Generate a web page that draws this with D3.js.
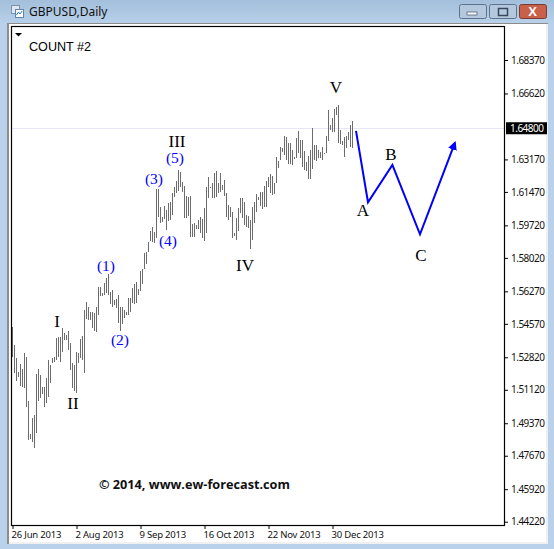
<!DOCTYPE html>
<html><head><meta charset="utf-8">
<script src="https://cdn.jsdelivr.net/npm/d3@7"></script>
<style>html,body{margin:0;padding:0;background:#b9d1ea}svg{display:block}</style>
</head><body><div id="c"></div>
<script>
const highs=[1.5441,1.5347,1.5279,1.5205,1.5247,1.5221,1.5305,1.5284,1.5054,1.4881,
1.4965,1.4981,1.5195,1.5221,1.5190,1.5127,1.5127,1.5174,1.5268,1.5242,
1.5279,1.5284,1.5383,1.5388,1.5388,1.5436,1.5409,1.5399,1.5420,1.5357,
1.5253,1.5242,1.5310,1.5305,1.5378,1.5394,1.5530,1.5572,1.5545,1.5519,
1.5519,1.5514,1.5545,1.5650,1.5650,1.5619,1.5671,1.5697,1.5718,1.5624,
1.5634,1.5582,1.5587,1.5608,1.5545,1.5545,1.5530,1.5519,1.5592,1.5592,
1.5645,1.5666,1.5676,1.5640,1.5734,1.5744,1.5828,1.5833,1.5885,1.5943,
1.5964,1.5938,1.6163,1.6163,1.6068,1.6016,1.6074,1.6053,1.6089,1.6095,
1.6142,1.6173,1.6204,1.6262,1.6251,1.6199,1.6178,1.6126,1.6121,1.6126,
1.5979,1.5985,1.5974,1.6000,1.6016,1.6006,1.6063,1.6173,1.6225,1.6173,
1.6194,1.6246,1.6257,1.6194,1.6246,1.6183,1.6210,1.6142,1.6079,1.6068,
1.6042,1.5932,1.6011,1.6063,1.6115,1.6115,1.6095,1.6027,1.6021,1.6000,
1.6068,1.6095,1.6136,1.6121,1.6147,1.6147,1.6178,1.6204,1.6225,1.6241,
1.6231,1.6194,1.6330,1.6309,1.6382,1.6377,1.6440,1.6434,1.6403,1.6403,
1.6366,1.6330,1.6429,1.6466,1.6419,1.6419,1.6361,1.6304,1.6335,1.6366,
1.6482,1.6393,1.6393,1.6366,1.6356,1.6382,1.6351,1.6440,1.6576,1.6497,
1.6534,1.6581,1.6591,1.6602,1.6471,1.6414,1.6434,1.6440,1.6461,1.6497,1.6518];
const lows=[1.5284,1.5200,1.5158,1.5179,1.5132,1.5127,1.5122,1.5022,1.4850,1.4855,
1.4839,1.4808,1.4886,1.5054,1.5069,1.5090,1.5022,1.5043,1.5075,1.5148,
1.5253,1.5258,1.5268,1.5284,1.5258,1.5310,1.5373,1.5373,1.5320,1.5216,
1.5122,1.5106,1.5096,1.5253,1.5279,1.5268,1.5200,1.5483,1.5477,1.5477,
1.5436,1.5420,1.5415,1.5504,1.5603,1.5603,1.5608,1.5619,1.5608,1.5561,
1.5545,1.5556,1.5540,1.5462,1.5420,1.5456,1.5488,1.5504,1.5504,1.5519,
1.5566,1.5561,1.5566,1.5608,1.5629,1.5666,1.5744,1.5770,1.5833,1.5891,
1.5885,1.5880,1.5906,1.6016,1.5985,1.5990,1.6006,1.5948,1.5995,1.6000,
1.6027,1.6121,1.6142,1.6152,1.6173,1.6147,1.6011,1.6011,1.6021,1.5911,
1.5911,1.5911,1.5953,1.5953,1.5932,1.5906,1.5891,1.5932,1.6115,1.6168,
1.6115,1.6115,1.6121,1.6142,1.6147,1.6157,1.6126,1.6016,1.6000,1.6016,
1.5906,1.5917,1.5896,1.5943,1.6037,1.6011,1.5974,1.5964,1.5959,1.5849,
1.5896,1.5985,1.6042,1.6105,1.6074,1.6058,1.6068,1.6068,1.6173,1.6142,
1.6131,1.6136,1.6194,1.6272,1.6314,1.6356,1.6340,1.6314,1.6293,1.6293,
1.6288,1.6319,1.6325,1.6351,1.6325,1.6278,1.6262,1.6257,1.6215,1.6215,
1.6267,1.6314,1.6309,1.6325,1.6325,1.6314,1.6346,1.6351,1.6414,1.6471,
1.6461,1.6461,1.6550,1.6403,1.6398,1.6393,1.6330,1.6377,1.6419,1.6382,1.6377];
const priceTicks=[1.6837,1.6662,1.6317,1.6147,1.5972,1.5802,1.5627,1.5457,1.5282,1.5112,1.4937,1.4767,1.4592,1.4422];
const currentPrice=1.6480;
const dateTickIndex=[0,32,64,96,128,160];
const dateTickLabels=["26 Jun 2013","2 Aug 2013","9 Sep 2013","16 Oct 2013","22 Nov 2013","30 Dec 2013"];
const forecastIndex=[172,178,190.2,204,221.5];
const forecastPrice=[1.6466,1.6093,1.6288,1.5925,1.6405];
const waveText=["I","II","III","IV","V","(1)","(2)","(3)","(4)","(5)","A","B","C"];
const waveIndex=[22.5,30.5,82.5,116.5,162,47,54,71,78,81.5,175.5,189.5,204.5];
const wavePrice=[1.5440,1.5009,1.6383,1.5735,1.6665,1.5734,1.5344,1.6189,1.5864,1.6299,1.6019,1.6316,1.5788];
const waveColor=["#000","#000","#000","#000","#000","#0000ff","#0000ff","#0000ff","#0000ff","#0000ff","#000","#000","#000"];

const W=554,H=549;
const svg=d3.select("#c").append("svg").attr("width",W).attr("height",H);
const x=d3.scaleLinear().domain([0,1]).range([12,14]);
const y=d3.scaleLinear().domain([1.4422,1.6837]).range([521.7,60]);
const sans='"Liberation Sans",Arial,sans-serif', ui='"Noto Sans",sans-serif';

const defs=svg.append("defs");
const tg=defs.append("linearGradient").attr("id","tb").attr("x1",0).attr("x2",0).attr("y1",0).attr("y2",1);
tg.append("stop").attr("offset",0).attr("stop-color","#a3bfdb");
tg.append("stop").attr("offset",1).attr("stop-color","#b9d1ea");
svg.append("rect").attr("width",W).attr("height",H).attr("fill","#b9d1ea");
svg.append("rect").attr("width",W).attr("height",24).attr("fill","url(#tb)");
svg.append("rect").attr("x",7).attr("y",23).attr("width",541).attr("height",521).attr("fill","#f0f0f0");
svg.append("rect").attr("x",7).attr("y",23).attr("width",2).attr("height",521).attr("fill","#8c8c8c");
svg.append("rect").attr("x",9).attr("y",23).attr("width",539).attr("height",1).attr("fill","#8c8c8c");
svg.append("rect").attr("x",9).attr("y",24).attr("width",537).attr("height",518).attr("fill","#fff");
const ic=svg.append("g");
ic.append("rect").attr("x",11.5).attr("y",5.5).attr("width",8).attr("height",8).attr("fill","#dfe8f2").attr("stroke","#7d93aa");
ic.append("rect").attr("x",15.5).attr("y",9.5).attr("width",8).attr("height",8).attr("fill","#fff").attr("stroke","#5f86b0");
ic.append("path").attr("d","M16.5 15l2-3 1.5 2 2-3").attr("fill","none").attr("stroke","#2f7fbf");
svg.append("text").attr("x",29).attr("y",16).attr("font-family",ui).attr("font-size",12).attr("fill","#111").text("GBPUSD,Daily");
const btn=(bx,w,f,s)=>svg.append("rect").attr("x",bx+.5).attr("y",4.5).attr("width",w).attr("height",14).attr("rx",2).attr("fill",f).attr("stroke",s);
btn(459,27,"#b4c8dd","#5d738b");btn(489,27,"#b4c8dd","#5d738b");btn(519,27,"#c8604a","#7c3a35");
svg.append("rect").attr("x",467).attr("y",12).attr("width",10).attr("height",3).attr("fill","#f4f6f8").attr("stroke","#48586a").attr("stroke-width",.7);
svg.append("rect").attr("x",498.5).attr("y",8.5).attr("width",9).attr("height",7).attr("fill","none").attr("stroke","#38485a").attr("stroke-width",1.5);
svg.append("text").attr("x",532.5).attr("y",16).attr("text-anchor","middle").attr("font-family",sans).attr("font-weight","bold").attr("font-size",13).attr("fill","#fff").text("X");

svg.append("line").attr("x1",12).attr("x2",504).attr("y1",Math.round(y(currentPrice))+.5).attr("y2",Math.round(y(currentPrice))+.5).attr("stroke","#e6e6fa");

svg.append("g").selectAll("rect").data(highs).join("rect")
 .attr("x",(d,i)=>Math.round(x(i))).attr("width",1)
 .attr("y",d=>Math.round(y(d))).attr("height",(d,i)=>Math.max(1,Math.round(y(lows[i]))-Math.round(y(d))))
 .attr("fill","#6c6c6c");

svg.append("rect").attr("x",11.5).attr("y",26.5).attr("width",493).attr("height",499).attr("fill","none").attr("stroke","#000").attr("stroke-width",1.2);
svg.append("path").attr("d","M15 33h7l-3.5 3.5z").attr("fill","#000");

const ya=d3.axisRight(y).tickValues(priceTicks).tickFormat(d3.format(".5f")).tickSize(3).tickPadding(3);
const ag=svg.append("g").attr("transform","translate(505,0)").call(ya);
ag.select(".domain").remove();
ag.selectAll("text").attr("font-family",ui).attr("font-size",10).attr("letter-spacing",-0.5).attr("fill","#111");
ag.selectAll("line").attr("stroke","#000");
svg.append("rect").attr("x",506).attr("y",y(currentPrice)-6).attr("width",41).attr("height",12).attr("fill","#000");
svg.append("text").attr("x",510).attr("y",y(currentPrice)+3.5).attr("font-family",ui).attr("font-size",10).attr("letter-spacing",-0.5).attr("fill","#fff").text(d3.format(".5f")(currentPrice));

const xa=d3.axisBottom(x).tickValues(dateTickIndex).tickFormat((d,i)=>dateTickLabels[i]).tickSize(3).tickPadding(2);
const xg=svg.append("g").attr("transform","translate(0,526)").call(xa);
xg.select(".domain").remove();
xg.selectAll("line").attr("stroke","#000").attr("transform","translate(0.5,0)");
xg.selectAll("text").attr("text-anchor","start").attr("font-family",ui).attr("font-size",9.5).attr("letter-spacing",-0.2).attr("fill","#111").attr("dx",-1);

defs.append("marker").attr("id","ah").attr("viewBox","0 0 10 10").attr("refX",8).attr("refY",5).attr("markerWidth",4.5).attr("markerHeight",4.5).attr("orient","auto")
 .append("path").attr("d","M0 0L10 5L0 10z").attr("fill","#0000ff");
const line=d3.line().x(d=>x(d[0])).y(d=>y(d[1]));
svg.append("path").attr("d",line(forecastIndex.map((d,i)=>[d,forecastPrice[i]]))).attr("fill","none").attr("stroke","#0000ff").attr("stroke-width",2).attr("marker-end","url(#ah)");

svg.append("g").selectAll("text").data(waveText).join("text")
 .attr("x",(d,i)=>x(waveIndex[i])).attr("y",(d,i)=>y(wavePrice[i]))
 .attr("text-anchor","middle").attr("font-family",'"Liberation Serif",serif').attr("font-size",(d)=>d[0]=="("?15.5:17)
 .attr("fill",(d,i)=>waveColor[i]).text(d=>d);

svg.append("text").attr("x",29).attr("y",51).attr("font-family",sans).attr("font-size",12.6).attr("fill","#000").text("COUNT #2");
svg.append("text").attr("x",99).attr("y",489).attr("font-family",'"Open Sans",sans-serif').attr("font-weight","bold").attr("font-size",12.7).attr("fill","#111").text("© 2014, www.ew-forecast.com");
</script></body></html>
